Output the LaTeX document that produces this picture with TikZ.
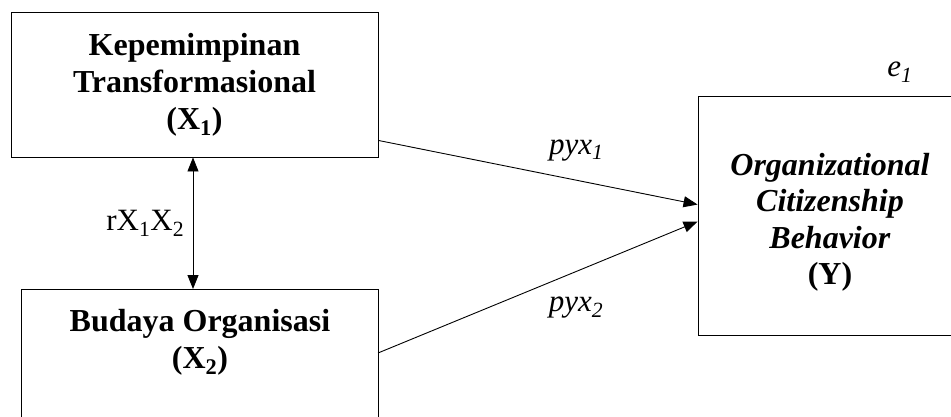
\documentclass[tikz,border=0pt]{standalone}
\usepackage{fontspec}
\setmainfont{Liberation Serif}
\usetikzlibrary{arrows.meta,positioning,calc}

\begin{document}
\begin{tikzpicture}[%
    x=1pt, y=-1pt,                          % Work in picture units, top-down
    >={Triangle[length=14pt,width=11pt]},   % Solid arrow heads
    line width=0.9pt,
    ]
% -------------------------------------------------
% Box and label styles
\tikzset{
  base/.style={draw, rectangle, align=center, inner sep=0pt,
    font=\fontsize{32}{37}\selectfont\bfseries},
  var/.style={base, minimum width=367pt, minimum height=145pt},
  dep/.style={base, minimum width=264pt, minimum height=239pt},
  txt/.style={align=center, inner sep=0pt,
    font=\fontsize{32}{36.5}\selectfont\bfseries},
  link/.style={->, draw},
  lbl/.style={font=\fontsize{31}{35}\selectfont\itshape}
}
\useasboundingbox (0,0) rectangle (951,416);
\clip (0,0) rectangle (951,416);
% -------------------------------------------------
% The three variables
\node [var] (x1) at (194.5,84.5)
  {Kepemimpinan\\Transformasional\\(X\textsubscript{1})};
\node [base, minimum width=357pt, minimum height=190pt, anchor=north west]
  (x2) at (21,289) {};
\node [txt, below=20pt of x2.north] (x2t)
  {Budaya Organisasi\\(X\textsubscript{2})};
\node [dep] (y) at (830,215.5) {};
\node [txt] (yt) at ($(y.center)+(0,7)$)
  {\textit{Organizational}\\\textit{Citizenship}\\\textit{Behavior}\\(Y)};

\node [lbl] (e1) at (900,72) {e\textsubscript{1}};

% Connection points on the boxes
\coordinate (x1out) at ($(x1.south east)+(0,-17)$);
\coordinate (x2out) at ($(x2.north west)+(357,64)$);
\coordinate (yin1) at ($(y.north west)+(0,109)$);
\coordinate (yin2) at ($(y.north west)+(0,126)$);

% -------------------------------------------------
% Correlation and paths
\draw [<->] (x1.south -| 193,0) -- node [left=5pt, font=\fontsize{31}{35}\selectfont]
  {rX\textsubscript{1}X\textsubscript{2}} (x2.north -| 193,0);
\draw [link] (x1out) -- node [lbl, pos=.62, yshift=30pt]
  {pyx\textsubscript{1}} (yin1);
\draw [link] (x2out) -- node [lbl, pos=.62, yshift=-36pt]
  {pyx\textsubscript{2}} (yin2);
% -------------------------------------------------
\end{tikzpicture}
\end{document}
